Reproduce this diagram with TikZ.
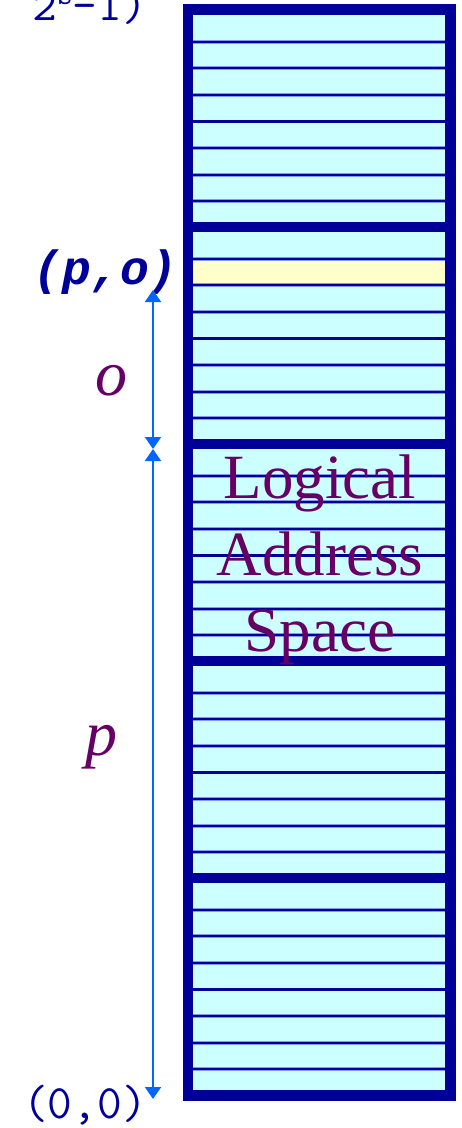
\documentclass[tikz,border=0pt]{standalone}
\usepackage{fontspec}
\setmainfont{Liberation Serif}
\newfontfamily\monofont{Liberation Mono}
\newfontfamily\plainmono{Latin Modern Mono}
\usetikzlibrary{arrows.meta}
\definecolor{navy}{RGB}{0,0,153}
\definecolor{cellcyan}{RGB}{204,255,255}
\definecolor{cellyellow}{RGB}{255,255,204}
\definecolor{plum}{RGB}{102,0,102}
\definecolor{arrowblue}{RGB}{0,102,255}
\definecolor{edgeblue}{RGB}{130,150,235}
\tikzset{
  rowedge/.style={edgeblue, line width=3.8pt},
  rowline/.style={navy, line width=2.2pt},
  bigtext/.style={plum, inner sep=0pt, anchor=base, font=\fontsize{63}{77}\selectfont},
  varlabel/.style={plum, inner sep=0pt, anchor=base, font=\fontsize{64}{64}\selectfont\itshape},
  coordtext/.style={navy, inner sep=0pt, anchor=base east, font=\plainmono\fontsize{48}{48}\selectfont},
  dimarrow/.style={arrowblue, line width=2pt, {Triangle[length=12pt,width=16pt]}-{Triangle[length=12pt,width=16pt]}}
}
\begin{document}
\begin{tikzpicture}[x=1pt,y=-1pt]
\useasboundingbox (0,0) rectangle (461,1128);
% frame
\fill[navy] (183,4) rectangle (456,1101);
\foreach \t in {15,232,449,666,883} {
  \fill[cellcyan] (193,\t) rectangle (445,\t+207);
}
\fill[cellyellow] (193,258.6) rectangle (445,285.2);
\foreach \t in {15,232,449,666,883} {
  \foreach \i in {1,...,7} {
    \draw[rowedge] (193,\t+26.6*\i) -- (445,\t+26.6*\i);
    \draw[rowline] (193,\t+26.6*\i) -- (445,\t+26.6*\i);
  }
}
% text
\node[bigtext] (l1) at (320,498) {Logical};
\node[bigtext] (l2) at (320,575) {Address};
\node[bigtext] (l3) at (320,651) {Space};
\node[varlabel] (olab) at (111,395) {o};
\node[varlabel] (plab) at (101,755) {p};
\node[coordtext] (top) at (147,20) {2{\fontsize{30}{30}\selectfont\raisebox{16pt}{s}}-1)};
\node[coordtext] (zero) at (147,1118) {(0,0)};
\node[navy, inner sep=0pt, anchor=base east, font=\monofont\fontsize{48}{48}\selectfont\bfseries\itshape] (po) at (178,284) {(p,o)};
% arrows
\coordinate (a1) at (153,290);
\coordinate (a2) at (153,449);
\coordinate (a3) at (153,1099);
\draw[dimarrow] (a1) -- (a2);
\draw[dimarrow] (a2) -- (a3);
\end{tikzpicture}
\end{document}
